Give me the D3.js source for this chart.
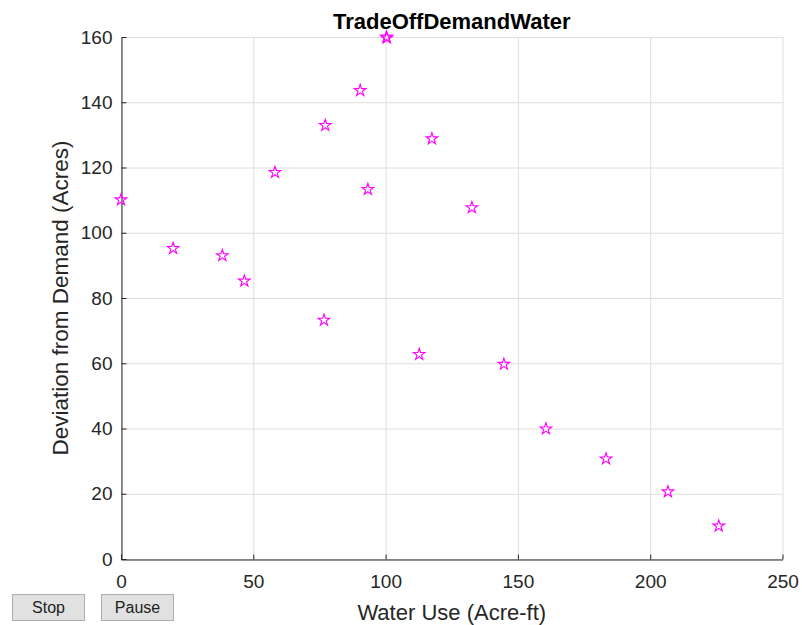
<!DOCTYPE html>
<html>
<head>
<meta charset="UTF-8">
<title>TradeOffDemandWater</title>
<script src="https://d3js.org/d3.v7.min.js"></script>
<style>
  body { margin: 0; background: #fff; font-family: "Liberation Sans", Arial, sans-serif; }
  .btn {
    position: absolute; top: 594px; width: 73px; height: 27px;
    background: #e1e1e1; border: 1px solid #adadad; box-sizing: border-box;
    font: 16px "Liberation Sans", Arial, sans-serif; color: #222;
    display: flex; align-items: center; justify-content: center;
  }
</style>
</head>
<body>
<div id="chart"></div>
<div class="btn" style="left:12px">Stop</div>
<div class="btn" style="left:101px">Pause</div>
<script>
// values
const waterUse = [0, 19.7, 38.3, 46.6, 58.2, 77.2, 76.7, 90.4, 100.3, 100.5, 93.3, 117.5, 132.6, 112.7, 144.7, 160.6, 183.3, 206.7, 225.9];
const deviation = [110.1, 95.2, 93.0, 85.2, 118.5, 132.9, 73.2, 143.6, 160, 159.7, 113.3, 128.8, 107.7, 62.7, 59.7, 39.9, 30.7, 20.6, 10.1];
const xTicks = [0, 50, 100, 150, 200, 250];
const yTicks = [0, 20, 40, 60, 80, 100, 120, 140, 160];

const W = 802, H = 625;
const mLeft = 121, mRight = 782.5, mTop = 37, mBottom = 559;

const svg = d3.select("#chart").append("svg")
  .attr("width", W).attr("height", H)
  .style("position", "absolute").style("left", 0).style("top", 0);

const x = d3.scaleLinear().domain([0, 250]).range([mLeft, mRight]);
const y = d3.scaleLinear().domain([0, 160]).range([mBottom, mTop]);

// grid
const grid = svg.append("g").attr("stroke", "#dedede").attr("stroke-width", 1);
grid.selectAll(".gx").data(xTicks).join("line")
  .attr("x1", d => x(d) + 0.5).attr("x2", d => x(d) + 0.5)
  .attr("y1", mTop).attr("y2", mBottom);
grid.selectAll(".gy").data(yTicks).join("line")
  .attr("y1", d => y(d) + 0.5).attr("y2", d => y(d) + 0.5)
  .attr("x1", mLeft).attr("x2", mRight);

// axes (ticks pointing inward like MATLAB)
const xAxis = svg.append("g").attr("transform", `translate(0,${mBottom + 0.5})`)
  .call(d3.axisBottom(x).tickValues(xTicks).tickSizeInner(-5).tickSizeOuter(0).tickPadding(11));
const yAxis = svg.append("g").attr("transform", `translate(${mLeft + 0.5},0)`)
  .call(d3.axisLeft(y).tickValues(yTicks).tickSizeInner(-5).tickSizeOuter(0).tickPadding(9));

[xAxis, yAxis].forEach(a => {
  a.select(".domain").attr("stroke", "#262626");
  a.selectAll(".tick line").attr("stroke", "#262626");
  a.selectAll(".tick text")
    .attr("fill", "#262626")
    .style("font-family", "'Liberation Sans', Arial, sans-serif")
    .style("font-size", "19px");
});
xAxis.selectAll(".tick text").attr("dy", "0.9em");

// markers
const star = d3.symbol().type(d3.symbolStar).size(42);
svg.append("g").selectAll("path")
  .data(waterUse.map((d, i) => [d, deviation[i]]))
  .join("path")
  .attr("d", star)
  .attr("transform", d => `translate(${x(d[0])},${y(d[1])})`)
  .attr("fill", "none")
  .attr("stroke", "#ff00ff")
  .attr("stroke-width", 1.1);

// labels
svg.append("text")
  .attr("x", (mLeft + mRight) / 2).attr("y", 29)
  .attr("text-anchor", "middle")
  .style("font-family", "'Liberation Sans', Arial, sans-serif")
  .style("font-size", "22px").style("font-weight", "bold")
  .attr("fill", "#000")
  .text("TradeOffDemandWater");

svg.append("text")
  .attr("x", (mLeft + mRight) / 2).attr("y", 620)
  .attr("text-anchor", "middle")
  .style("font-family", "'Liberation Sans', Arial, sans-serif")
  .style("font-size", "22px")
  .attr("fill", "#262626")
  .text("Water Use (Acre-ft)");

svg.append("text")
  .attr("transform", `translate(68,${(mTop + mBottom) / 2}) rotate(-90)`)
  .attr("text-anchor", "middle")
  .style("font-family", "'Liberation Sans', Arial, sans-serif")
  .style("font-size", "22.5px")
  .attr("fill", "#262626")
  .text("Deviation from Demand (Acres)");
</script>
</body>
</html>
